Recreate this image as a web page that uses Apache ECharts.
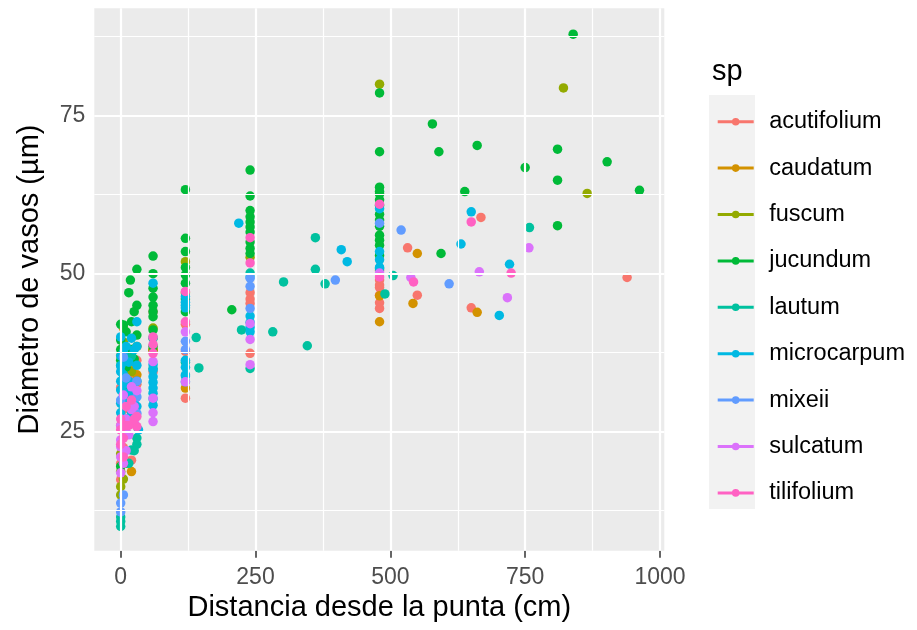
<!DOCTYPE html>
<html>
<head>
<meta charset="utf-8">
<script src="https://cdn.jsdelivr.net/npm/echarts@6/dist/echarts.min.js"></script>
<style>html,body{margin:0;padding:0;background:#fff}#c{width:917px;height:630px}</style>
</head>
<body>
<div id="c"></div>
<script>
// ---- data ----
const categories = ['acutifolium','caudatum','fuscum','jucundum','lautum','microcarpum','mixeii','sulcatum','tilifolium'];
const xTicks = [0, 250, 500, 750, 1000];
const xMinor = [125, 375, 625, 875];
const yTicks = [25, 50, 75];
const yMinor = [12.5, 37.5, 62.5, 87.5];

const acutifolium = [[0,17.4],[0,20],[5,22.5],[0,26],[5,28.5],[10,30.5],[20,20.5],[25,31.1],[30,36.3],[20,33.5],[10,24.8],[0,32],[15,27],[30,32.5],
  [60,44.0],[60,37.9],[60,34.5],[120,37.7],[120,30.3],[120,42],
  [240,47.0],[240,46],[240,45.3],[240,37.4],
  [480,49.0],[480,47.8],[480,46.6],[480,45.4],[480,48.2],[480,50.5],[480,44.5],
  [532,54.1],[550,46.6],[650,44.6],[668,58.9],[939,49.4]];
const caudatum = [[5,41.4],[20,18.7],[10,33],[5,26],[0,37],[30,34],[20,35],
  [60,38],[120,31.9],[480,46.5],[480,42.4],[542,45.3],[550,53.2],[661,43.9]];
const fuscum = [[0,15.0],[0,16.3],[0,18.7],[5,29.7],[10,36.6],[20,34.5],[30,38.5],[0,21.5],[5,39.2],[5,17.5],[10,20],
  [60,41.4],[60,37.9],[120,51.9],[120,47],[240,52.6],[480,80.0],[821,79.4],[865,62.7]];
const jucundum = [[0,36.3],[0,39.5],[5,41.9],[20,42.4],[18,49.0],[30,50.7],[30,45.0],[30,40.3],[0,19.5],[5,31],[10,35.2],[20,38],[0,42],
  [10,40.8],[25,44],[15,47],[0,38],[25,36.5],
  [60,52.8],[60,47.7],[60,45.0],[60,44.0],[60,43.2],[60,41.1],[60,38.5],[60,46.3],[60,39.8],[60,50],
  [120,63.3],[120,55.6],[120,49.8],[120,48.5],[120,44.0],[120,46],[120,51],[120,53.5],
  [240,66.4],[240,62.3],[240,59.0],[240,58.2],[240,57.4],[240,56.6],[240,53.2],[240,54],[240,60],[240,55],
  [480,78.6],[480,69.3],[480,63.7],[480,62.6],[480,61.7],[480,59.4],[480,56.1],[480,54.5],[480,52.9],[480,55.3],[480,57.5],[480,58.5],[480,60.8],[480,63],
  [206,44.3],[578,73.7],[590,69.3],[594,53.2],[638,63.0],[661,70.3],[750,66.8],[810,69.7],[810,64.8],[810,57.6],[839,87.9],[902,67.7],[962,63.2]];
const lautum = [[0,10.0],[0,10.8],[20,22.1],[30,24],[30,23],[5,36],[20,37],[10,32],[0,35.5],[30,33],[15,20],[25,22],[0,11.5],[5,34],
  [60,35],[120,36],[240,35.0],[240,50.1],[480,50.8],
  [140,39.9],[145,35.1],[224,41.1],[282,40.8],[302,48.7],[346,38.6],[361,55.7],[361,50.7],[379,48.4],[490,46.8],[505,49.7],[758,57.3]];
const microcarpum = [[0,31.6],[0,33],[0,34.5],[0,35.4],[5,32.5],[5,30],[10,27],[30,42.4],[20,39.8],[33,25.3],[0,28],[5,37.5],[30,29],[20,31],[0,40],[10,38.5],[30,35.5],[20,28],
  [0,29.5],[0,37],[5,34],[15,33],[25,30],[10,31],[25,38],[15,36],[30,38.5],
  [60,48.5],[60,33.7],[60,32.8],[60,31.9],[60,31.1],[60,29.2],[60,34.8],[60,35.6],[60,30.2],
  [120,46.4],[120,45.5],[120,44.6],[120,36.3],[120,35.2],[120,34.0],[120,32.9],[120,33.8],[120,45],
  [240,49.5],[240,43.3],[240,41.5],[240,40.8],[240,42.3],
  [480,60.3],[480,52.2],[480,51.0],[480,53.5],
  [219,58.0],[409,53.8],[420,51.9],[631,54.7],[650,59.8],[702,43.4],[721,51.5]];
const mixeii = [[0,12.3],[0,13.7],[30,27.9],[30,30.5],[0,30],[10,33.5],[5,36.8],[30,33],[5,15],[15,29],
  [60,39.9],[120,38],[120,39.3],[240,49.3],[240,44.5],[240,48],[480,58.0],[398,49.0],[520,56.9],[609,48.4]];
const sulcatum = [[0,22.6],[0,21.0],[0,23.7],[26,26.3],[20,32.1],[5,25],[10,27],[0,18.5],[20,28.5],[30,31.5],[5,30.8],[0,26],
  [15,24.5],[25,29],[5,20],[10,22],
  [60,36.1],[60,30.3],[60,26.6],[60,28],[120,40.8],[120,32.9],[240,42.1],[240,39.6],[240,35.6],[480,50.1],
  [538,49.4],[665,50.3],[717,46.2],[757,54.1]];
const tilifolium = [[0,25.3],[30,27.4],[0,27],[5,24],[10,29],[20,30],[0,23],[10,26],[30,25.8],[15,26],[25,27],[5,21],
  [60,37.4],[60,40],[60,38.8],[120,47.2],[120,42.4],[240,55.7],[240,51.7],[480,61.0],[480,49.5],
  [543,48.7],[650,58.2],[724,50.1]];

const seriesData = [acutifolium, caudatum, fuscum, jucundum, lautum, microcarpum, mixeii, sulcatum, tilifolium];

// ---- styles ----
const palette = ['#F8766D','#D39200','#93AA00','#00BA38','#00C19F','#00B9E3','#619CFF','#DB72FB','#FF61C3'];
const FONT = '"Liberation Sans", Arial, sans-serif';
const legendIcon = 'path://M0,0L0,0M46.5,8L46.5,8M0,2.5H36V5.5H0ZM21.8,4A3.8,3.8,0,1,1,14.2,4A3.8,3.8,0,1,1,21.8,4Z';

const chart = echarts.init(document.getElementById('c'), null, {renderer: 'canvas'});

const gridSeries = [
  {
    type: 'scatter', data: [], silent: true, z: 1,
    markLine: {
      silent: true, symbol: 'none', animation: false, label: {show: false},
      lineStyle: {color: '#FFFFFF', width: 1.2, type: 'solid'},
      emphasis: {disabled: true},
      data: xMinor.map(v => ({xAxis: v})).concat(yMinor.map(v => ({yAxis: v})))
    }
  },
  {
    type: 'scatter', data: [], silent: true, z: 1,
    markLine: {
      silent: true, symbol: 'none', animation: false, label: {show: false},
      lineStyle: {color: '#FFFFFF', width: 2.2, type: 'solid'},
      emphasis: {disabled: true},
      data: xTicks.map(v => ({xAxis: v})).concat(yTicks.map(v => ({yAxis: v})))
    }
  }
];

const pointSeries = categories.map((name, i) => ({
  name: name,
  type: 'scatter',
  data: seriesData[i],
  symbol: 'circle',
  symbolSize: 9.5,
  z: 3,
  itemStyle: {color: palette[i], opacity: 1},
  emphasis: {disabled: true}
}));

chart.setOption({
  animation: false,
  backgroundColor: '#FFFFFF',
  textStyle: {fontFamily: FONT},
  grid: {
    left: 94.3, top: 8.3, width: 570, height: 542.4,
    show: true, backgroundColor: '#EBEBEB', borderWidth: 0,
    containLabel: false
  },
  xAxis: {
    type: 'value', min: -48.95, max: 1008,
    name: 'Distancia desde la punta (cm)',
    nameLocation: 'middle', nameGap: 41,
    nameTextStyle: {color: '#000000', fontSize: 29, fontFamily: FONT},
    axisLine: {show: false},
    splitLine: {show: false},
    axisTick: {show: true, customValues: xTicks, length: 7, lineStyle: {color: '#333333', width: 1.5}},
    axisLabel: {customValues: xTicks, formatter: v => String(v), color: '#4D4D4D', fontSize: 23, margin: 15, fontFamily: FONT}
  },
  yAxis: {
    type: 'value', min: 6.17, max: 92.0,
    name: 'Diámetro de vasos (µm)',
    nameLocation: 'middle', nameGap: 50,
    nameTextStyle: {color: '#000000', fontSize: 29, fontFamily: FONT},
    axisLine: {show: false},
    splitLine: {show: false},
    axisTick: {show: true, customValues: yTicks, length: 7, lineStyle: {color: '#333333', width: 1.5}},
    axisLabel: {customValues: yTicks, formatter: v => String(v), color: '#4D4D4D', fontSize: 23, margin: 9, fontFamily: FONT}
  },
  title: {
    text: 'sp', left: 707, top: 52,
    textStyle: {color: '#000000', fontSize: 29, fontWeight: 'normal', fontFamily: FONT}
  },
  graphic: [{
    type: 'rect', z: 0, silent: true,
    shape: {x: 709, y: 95, width: 46, height: 414},
    style: {fill: '#F2F2F2'}
  }],
  legend: {
    show: true, orient: 'vertical', left: 712.7, top: 104.7, z: 5,
    icon: legendIcon, itemWidth: 46.5, itemHeight: 8, itemGap: 22.4,
    selectedMode: false,
    data: categories,
    textStyle: {color: '#000000', fontSize: 23.5, lineHeight: 24, fontFamily: FONT}
  },
  series: gridSeries.concat(pointSeries)
});
</script>
</body>
</html>
